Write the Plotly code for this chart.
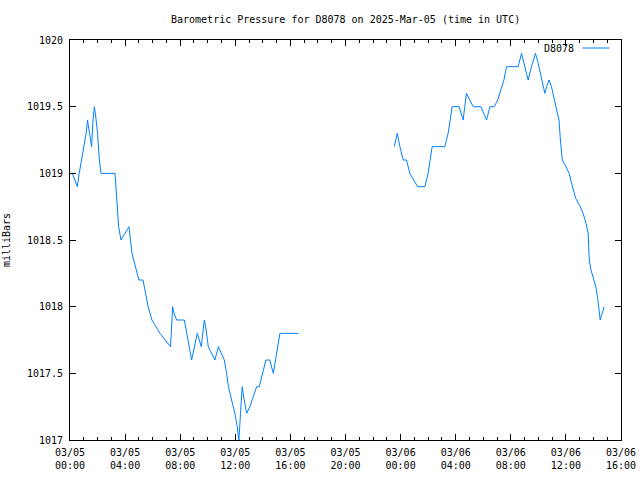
import pandas as pd
import plotly.graph_objects as go

# hours since 2025-03-05 00:00 UTC, and pressure (mbar)
hours_a = [0.17, 0.53, 0.67, 0.83, 1.0, 1.17, 1.27, 1.42, 1.57, 1.67, 1.77, 1.9, 2.0, 2.13, 2.25,
           3.27, 3.4, 3.53, 3.7, 4.0, 4.28, 4.5, 4.75, 5.0, 5.3, 5.5, 5.67, 5.95, 6.24, 6.53,
           7.3, 7.45, 7.55, 7.74, 8.3, 8.55, 8.83, 9.24, 9.4, 9.53, 9.75, 9.85, 10.04, 10.52,
           10.77, 11.2, 11.37, 11.5, 11.73, 11.97, 12.14, 12.26, 12.38, 12.5, 12.6, 12.82,
           13.06, 13.55, 13.74, 14.22, 14.5, 14.76, 15.24, 16.57]
press_a = [1019.0, 1018.9, 1019.0, 1019.1, 1019.2, 1019.3, 1019.4, 1019.3, 1019.2, 1019.4, 1019.5,
           1019.4, 1019.3, 1019.1, 1019.0,
           1019.0, 1018.8, 1018.6, 1018.5, 1018.55, 1018.6, 1018.4, 1018.3, 1018.2, 1018.2, 1018.1,
           1018.0, 1017.9, 1017.85, 1017.8,
           1017.7, 1018.0, 1017.95, 1017.9, 1017.9, 1017.75, 1017.6, 1017.8, 1017.75, 1017.7,
           1017.9, 1017.85, 1017.7, 1017.6,
           1017.7, 1017.6, 1017.5, 1017.4, 1017.3, 1017.2, 1017.1, 1017.0, 1017.2, 1017.4,
           1017.33, 1017.2,
           1017.25, 1017.4, 1017.4, 1017.6, 1017.6, 1017.5, 1017.8, 1017.8]

hours_b = [23.54, 23.76, 23.95, 24.19, 24.43, 24.67, 25.23, 25.76, 26.0, 26.29, 27.21, 27.45, 27.6,
           27.74, 28.25, 28.4, 28.54, 28.66, 28.78, 29.02, 29.27, 29.83, 30.05, 30.24, 30.48,
           30.8, 31.05, 31.33, 31.5, 31.69, 32.53, 32.78, 33.02, 33.26, 33.5, 33.79, 33.98,
           34.23, 34.47, 34.6, 34.78, 34.95, 35.19, 35.39, 35.5, 35.6, 35.68, 35.74, 36.0,
           36.24, 36.4, 36.57, 36.72, 37.0, 37.25, 37.45, 37.62, 37.65, 37.7, 37.81, 37.98,
           38.17, 38.3, 38.41, 38.49, 38.63, 38.78]
press_b = [1019.2, 1019.3, 1019.2, 1019.1, 1019.1, 1019.0, 1018.9, 1018.9, 1019.0, 1019.2, 1019.2,
           1019.3, 1019.4,
           1019.5, 1019.5, 1019.45, 1019.4, 1019.5, 1019.6, 1019.55, 1019.5, 1019.5, 1019.45,
           1019.4, 1019.5,
           1019.5, 1019.55, 1019.65, 1019.7, 1019.8, 1019.8, 1019.9, 1019.8, 1019.7, 1019.8,
           1019.9, 1019.83,
           1019.72, 1019.6, 1019.65, 1019.7, 1019.65, 1019.55, 1019.45, 1019.4, 1019.25, 1019.15,
           1019.1, 1019.05,
           1019.0, 1018.93, 1018.86, 1018.81, 1018.76, 1018.7, 1018.63, 1018.55, 1018.45, 1018.35,
           1018.28, 1018.21,
           1018.15, 1018.07, 1017.94, 1017.9, 1017.95, 1018.0]

tick_hours = [0, 4, 8, 12, 16, 20, 24, 28, 32, 36, 40]
tick_labels = ["03/05<br>00:00", "03/05<br>04:00", "03/05<br>08:00", "03/05<br>12:00",
               "03/05<br>16:00", "03/05<br>20:00", "03/06<br>00:00", "03/06<br>04:00",
               "03/06<br>08:00", "03/06<br>12:00", "03/06<br>16:00"]
y_ticks = [1017, 1017.5, 1018, 1018.5, 1019, 1019.5, 1020]
y_labels = ["1017", "1017.5", "1018", "1018.5", "1019", "1019.5", "1020"]

base = pd.Timestamp("2025-03-05 00:00")
def to_time(h):
    return [base + pd.Timedelta(hours=v) for v in h]

xs = to_time(hours_a) + [None] + to_time(hours_b)
ys = press_a + [None] + press_b

FONT = "DejaVu Sans Mono"
COLOR = "rgb(0,128,255)"

fig = go.Figure()
fig.add_trace(go.Scatter(x=xs, y=ys, mode="lines", name="D8078",
                         line=dict(color=COLOR, width=1), connectgaps=False,
                         showlegend=False))

fig.update_layout(
    width=640, height=480,
    margin=dict(l=70, r=19, t=40, b=40, autoexpand=False),
    paper_bgcolor="white", plot_bgcolor="white",
    font=dict(family=FONT, size=10, color="black"),
    title=dict(text="Barometric Pressure for D8078 on 2025-Mar-05 (time in UTC)",
               x=0.54, xanchor="center", y=0.96, yanchor="middle",
               font=dict(family=FONT, size=10, color="black")),
    xaxis=dict(
        range=[base, base + pd.Timedelta(hours=40)],
        tickvals=to_time(tick_hours), ticktext=tick_labels,
        ticks="inside", ticklen=6, tickcolor="black", tickwidth=1,
        minor=dict(dtick=3600000, ticks="inside", ticklen=3, tickcolor="black", showgrid=False),
        showline=True, linecolor="black", linewidth=1, mirror="allticks",
        showgrid=False, zeroline=False, automargin=False,
        ticklabelstandoff=3,
        tickfont=dict(family=FONT, size=10),
    ),
    yaxis=dict(
        range=[1017, 1020],
        tickvals=y_ticks, ticktext=y_labels,
        ticks="inside", ticklen=6, tickcolor="black", tickwidth=1,
        showline=True, linecolor="black", linewidth=1, mirror="allticks",
        showgrid=False, zeroline=False, automargin=False,
        ticklabelstandoff=4,
        tickfont=dict(family=FONT, size=10),
        title=dict(text="milliBars", font=dict(family=FONT, size=10), standoff=14),
    ),
)

# legend drawn as gnuplot style: text then line sample
fig.add_annotation(text="D8078", xref="paper", yref="paper", x=0.918, y=0.98,
                   xanchor="right", yanchor="middle", showarrow=False,
                   font=dict(family=FONT, size=10, color="black"))
fig.add_shape(type="line", xref="paper", yref="paper", x0=0.93, x1=0.979, y0=0.98, y1=0.98,
              line=dict(color=COLOR, width=1))

fig.write_html("out.html")
